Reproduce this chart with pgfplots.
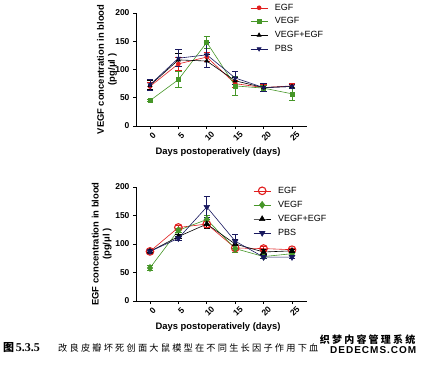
\documentclass[border=0pt]{standalone}
\usepackage{fontspec}
\setmainfont{Liberation Sans}
\newfontfamily\cjk{Noto Sans CJK SC}
\newfontfamily\serifnum{Liberation Serif}
\usepackage{pgfplots}
\pgfplotsset{compat=1.18}
\definecolor{cegf}{RGB}{225,30,30}
\definecolor{cvegf}{RGB}{70,150,40}
\definecolor{cpbs}{RGB}{25,25,95}

\pgfplotsset{
  gp/.style={
    scale only axis,
    width=171pt,
    axis x line=bottom, axis y line=left,
    axis line style={-, line width=0.9pt},
    xmin=-2.46, xmax=27.64, ymin=0, ymax=200,
    xtick={0,5,10,15,20,25}, ytick={0,50,100,150,200},
    tick align=outside, major tick length=3pt,
    tick style={line width=0.8pt, black},
    /pgf/number format/assume math mode=true,
    tick label style={font=\fontsize{8.5}{10}\selectfont\bfseries},
    x tick label style={rotate=45, anchor=center, yshift=-7pt, xshift=-3pt},
    xlabel={Days postoperatively (days)},
    xlabel style={font=\fontsize{9.4}{11}\selectfont\bfseries, at={(axis description cs:0.48,0)}, anchor=north, yshift=-18.5pt},
    ylabel style={font=\fontsize{9.4}{11}\selectfont\bfseries, align=center, anchor=center},
    legend style={draw=none, fill=none, font=\fontsize{9}{10}\selectfont, inner sep=0pt, column sep=5pt, cells={anchor=west}},
    legend cell align=left,
    legend image code/.code={\draw[mark repeat=2,mark phase=2] plot coordinates {(0cm,0cm) (0.3cm,0cm) (0.6cm,0cm)};},
    every axis plot/.append style={line width=0.6pt},
    error bars/y dir=both, error bars/y explicit,
    error bars/error mark options={rotate=90, mark size=3.2pt, line width=0.8pt},
    error bars/error bar style={line width=0.8pt},
  }
}

\begin{document}
\begin{tikzpicture}[x=1pt,y=1pt]
\path[use as bounding box] (0,0) rectangle (425,-368);

% ---------- top chart ----------
\begin{axis}[gp, at={(136pt,-126pt)}, anchor=south west, height=113pt,
  ylabel={VEGF concentration in blood\\(pg/μl )},
  ylabel style={at={(axis description cs:-0.17,0.5)}},
  legend style={at={(axis description cs:0.667,1.10)}, anchor=north west, row sep=1.9pt}]
\addplot[cegf, mark=*, mark size=2pt] table[x=x, y=y, y error=e] {
x y e
0 70 7
5 110 12
10 122 8
15 75 6
20 68 6
25 71 4
};
\addlegendentry{EGF}
\addplot[cvegf, mark=square*, mark size=2pt] table[x=x, y=y, y error=e] {
x y e
0 45 2
5 82 14
10 148 10
15 71 16
20 67 5
25 57 12
};
\addlegendentry{VEGF}
\addplot[black, mark=triangle*, mark size=2.3pt] table[x=x, y=y, y error=e] {
x y e
0 72 8
5 117 12
10 115 12
15 80 6
20 68 7
25 70 4
};
\addlegendentry{VEGF+EGF}
\addplot[cpbs, mark=triangle*, mark options={rotate=180}, mark size=2.3pt] table[x=x, y=y, y error=e] {
x y e
0 73 10
5 120 15
10 126 22
15 85 12
20 68 7
25 70 4
};
\addlegendentry{PBS}
\end{axis}

% ---------- bottom chart ----------
\begin{axis}[gp, at={(136pt,-301pt)}, anchor=south west, height=114pt,
  ylabel={EGF concentration in blood\\(pg/μl )},
  ylabel style={at={(axis description cs:-0.20,0.5)}},
  legend style={at={(axis description cs:0.685,1.02)}, anchor=north west, row sep=2.3pt}]
\addplot[cegf, mark=o, mark size=3.8pt, mark options={line width=1.1pt}] table[x=x, y=y, y error=e] {
x y e
0 87 3
5 129 3
10 135 5
15 93 4
20 92 3
25 90 3
};
\addlegendentry{EGF}
\addplot[cvegf, mark=diamond*, mark size=3.5pt] table[x=x, y=y, y error=e] {
x y e
0 58 5
5 124 4
10 143 8
15 92 6
20 78 3
25 83 3
};
\addlegendentry{VEGF}
\addplot[black, mark=triangle*, mark size=3.2pt] table[x=x, y=y, y error=e] {
x y e
0 87 3
5 113 4
10 135 8
15 100 8
20 86 4
25 88 3
};
\addlegendentry{VEGF+EGF}
\addplot[cpbs, mark=triangle*, mark options={rotate=180}, mark size=3.2pt] table[x=x, y=y, y error=e] {
x y e
0 87 3
5 110 3
10 165 18
15 105 12
20 77 3
25 77 3
};
\addlegendentry{PBS}
\end{axis}

% ---------- caption ----------
\node[anchor=west, inner sep=0pt] at (3,-348) {{\cjk\bfseries\fontsize{11}{12}\selectfont 图}\,{\serifnum\bfseries\fontsize{12}{13}\selectfont 5.3.5}};
\node[anchor=west, inner sep=0pt] at (58,-348) {\cjk\addfontfeatures{LetterSpace=24}\fontsize{9.2}{11}\selectfont 改良皮瓣坏死创面大鼠模型在不同生长因子作用下血};
\node[anchor=east, inner sep=0.5pt, fill=white] at (416,-340) {\cjk\bfseries\addfontfeatures{LetterSpace=22}\fontsize{10}{11}\selectfont 织梦内容管理系统};
\node[anchor=east, inner sep=0.5pt, fill=white] at (417,-350) {\bfseries\addfontfeatures{LetterSpace=10}\fontsize{10}{11}\selectfont DEDECMS.COM};
\end{tikzpicture}
\end{document}
